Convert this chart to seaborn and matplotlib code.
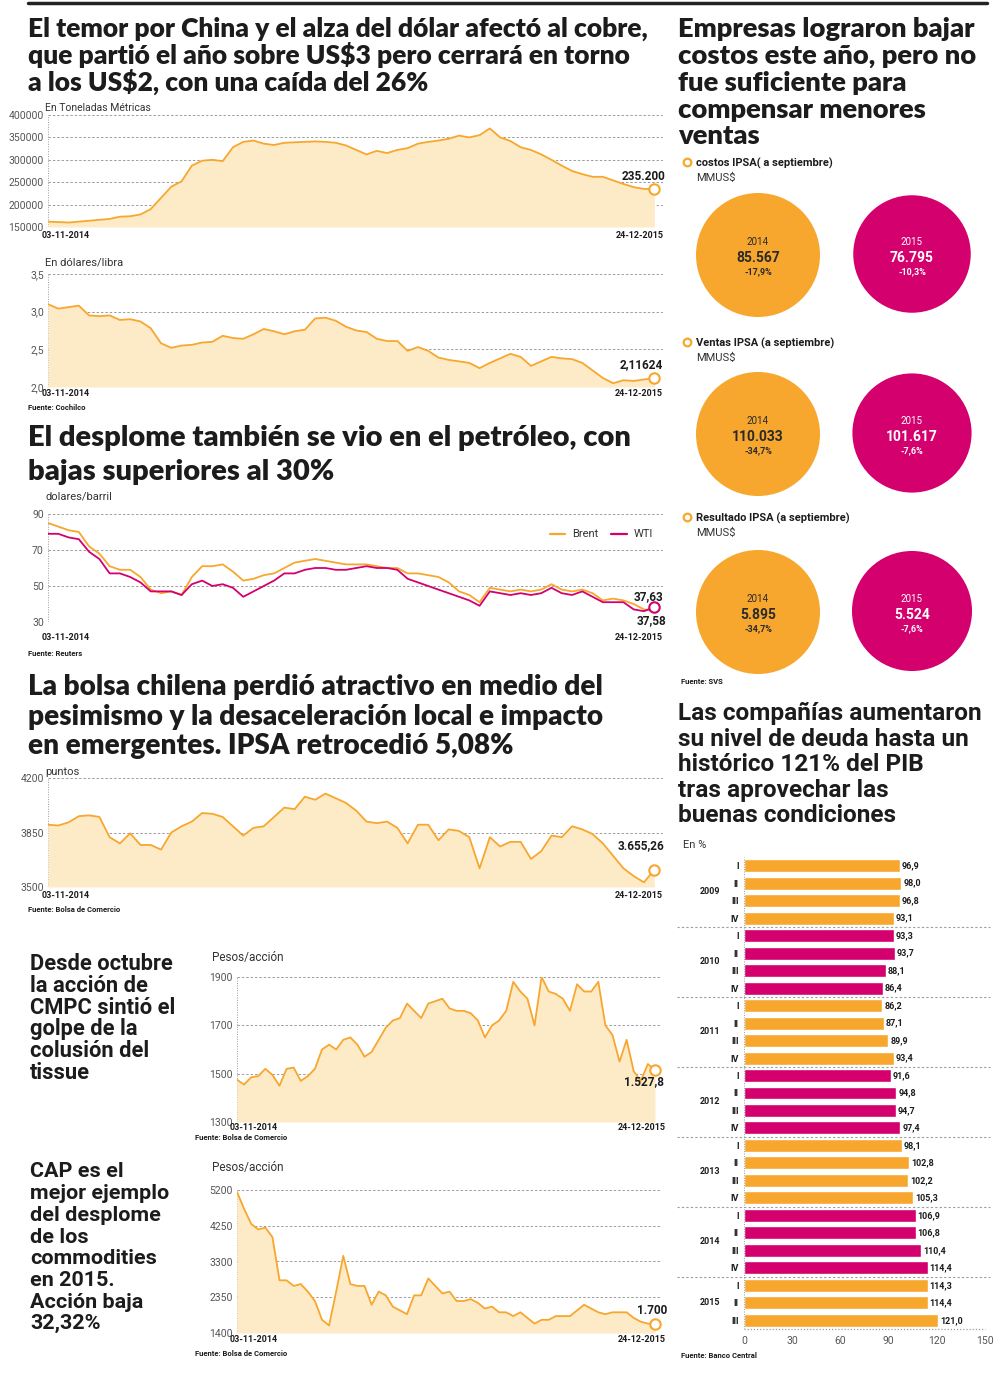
import numpy as np
import pandas as pd
import matplotlib
matplotlib.use('Agg')
import matplotlib.pyplot as plt
import seaborn as sns
from matplotlib.patches import Circle
from matplotlib.lines import Line2D
import matplotlib.transforms as mtrans

# ---------------- data ----------------
START, END = '2014-11-03', '2015-12-24'

copper_stock_k = [162, 161, 160, 162, 164, 166, 168, 173, 174, 178, 190, 215, 240, 252, 287, 298, 300, 297,
                  328, 340, 343, 336, 333, 338, 339, 340, 341, 340, 338, 332, 322, 312, 320, 315, 322, 326,
                  336, 340, 343, 347, 354, 350, 355, 370, 350, 342, 328, 322, 312, 300, 287, 275, 268, 262,
                  262, 254, 246, 239, 235, 235.2]
copper_price = [3.10, 3.04, 3.06, 3.08, 2.95, 2.94, 2.95, 2.89, 2.90, 2.87, 2.78, 2.58, 2.52, 2.55, 2.56,
                2.59, 2.60, 2.68, 2.65, 2.64, 2.70, 2.77, 2.74, 2.70, 2.74, 2.76, 2.91, 2.92, 2.88, 2.80,
                2.75, 2.73, 2.64, 2.61, 2.61, 2.48, 2.53, 2.48, 2.39, 2.36, 2.34, 2.32, 2.25, 2.32, 2.38,
                2.44, 2.40, 2.28, 2.34, 2.40, 2.38, 2.37, 2.32, 2.22, 2.12, 2.05, 2.09, 2.08, 2.10, 2.116]
brent = [85, 83, 81, 80, 72, 68, 61, 59, 59, 55, 48, 46, 47, 45, 55, 61, 61, 62, 58, 53, 54, 56, 57, 60,
         63, 64, 65, 64, 63, 62, 62, 62, 61, 60, 60, 57, 57, 56, 55, 52, 47, 45, 41, 49, 48, 47, 48, 47,
         48, 51, 48, 47, 48, 46, 42, 43, 42, 40, 37, 36]
wti = [79, 79, 77, 76, 69, 65, 57, 57, 55, 52, 47, 47, 47, 45, 51, 53, 50, 51, 49, 44, 47, 50, 53, 57,
       57, 59, 60, 60, 59, 59, 60, 61, 60, 60, 59, 54, 52, 50, 48, 46, 44, 42, 39, 47, 46, 45, 46, 45,
       46, 49, 46, 45, 47, 44, 41, 41, 41, 37, 36, 38.3]
ipsa = [3900, 3895, 3915, 3955, 3960, 3950, 3820, 3780, 3845, 3770, 3770, 3740, 3850, 3890, 3920, 3975,
        3970, 3950, 3890, 3830, 3880, 3890, 3950, 4010, 4000, 4080, 4060, 4100, 4070, 4040, 3990, 3920,
        3910, 3920, 3880, 3780, 3900, 3900, 3800, 3870, 3860, 3820, 3620, 3820, 3760, 3790, 3790, 3680,
        3730, 3830, 3820, 3890, 3870, 3840, 3780, 3700, 3620, 3570, 3530, 3610]
cmpc = [1475, 1455, 1485, 1490, 1520, 1495, 1450, 1520, 1525, 1470, 1490, 1520, 1600, 1620, 1600, 1640,
        1650, 1620, 1570, 1590, 1640, 1690, 1720, 1730, 1790, 1760, 1730, 1790, 1800, 1810, 1770, 1760,
        1760, 1750, 1720, 1650, 1700, 1720, 1760, 1880, 1840, 1810, 1700, 1900, 1840, 1830, 1810, 1760,
        1870, 1840, 1840, 1880, 1700, 1660, 1550, 1640, 1510, 1470, 1540, 1515]
cap = [5150, 4700, 4300, 4150, 4200, 3950, 2800, 2800, 2650, 2700, 2500, 2250, 1750, 1600, 2500, 3450,
       2700, 2650, 2650, 2150, 2500, 2400, 2100, 2000, 1900, 2400, 2400, 2850, 2650, 2450, 2500, 2250,
       2250, 2300, 2200, 2050, 2100, 1950, 1950, 1850, 1950, 1800, 1650, 1750, 1750, 1850, 1850, 1850,
       2000, 2150, 2050, 1950, 1900, 1950, 1950, 1950, 1800, 1700, 1650, 1640]

stock_ticks = [150000, 200000, 250000, 300000, 350000, 400000]
price_ticks = [2.0, 2.5, 3.0, 3.5]
oil_ticks = [30, 50, 70, 90]
ipsa_ticks = [3500, 3850, 4200]
cmpc_ticks = [1300, 1500, 1700, 1900]
cap_ticks = [1400, 2350, 3300, 4250, 5200]

debt_years = ['2009'] * 4 + ['2010'] * 4 + ['2011'] * 4 + ['2012'] * 4 + ['2013'] * 4 + ['2014'] * 4 + ['2015'] * 3
debt_quarters = ['I', 'II', 'III', 'IV'] * 6 + ['I', 'II', 'III']
debt_values = [96.9, 98.0, 96.8, 93.1, 93.3, 93.7, 88.1, 86.4, 86.2, 87.1, 89.9, 93.4, 91.6, 94.8, 94.7, 97.4,
               98.1, 102.8, 102.2, 105.3, 106.9, 106.8, 110.4, 114.4, 114.3, 114.4, 121.0]

circle_titles = ['costos IPSA( a septiembre)', 'Ventas IPSA (a septiembre)', 'Resultado IPSA (a septiembre)']
circle_v2014 = [85567, 110033, 5895]
circle_v2015 = [76795, 101617, 5524]
circle_p2014 = ['-17,9%', '-34,7%', '-34,7%']
circle_p2015 = ['-10,3%', '-7,6%', '-7,6%']

# ---------------- style ----------------
W, H = 1002, 1374
ORANGE = '#F7A72E'
PINK = '#D3006E'
FILL = '#FDEAC6'
GRID = '#9c9c9c'
INK = '#1c1c1c'
TICK = '#555555'

sns.set_theme(style='white')
plt.rcParams['font.family'] = ['Roboto', 'DejaVu Sans']
plt.rcParams['text.parse_math'] = False
TITLE_FAM = ['Lato', 'Roboto', 'DejaVu Sans']
WIDE_FAM = ['Roboto', 'DejaVu Sans']

fig = plt.figure(figsize=(W / 100, H / 100), dpi=100)
fig.patch.set_facecolor('white')
renderer = fig.canvas.get_renderer()


def ftext(x, y, s, **kw):
    return fig.text(x / W, 1 - y / H, s, **kw)


def pax(x0, y0, x1, y1):
    ax = fig.add_axes([x0 / W, 1 - y1 / H, (x1 - x0) / W, (y1 - y0) / H])
    ax.set_facecolor('none')
    return ax


def fit_block(lines, x, baselines, target_w, ref, family, color=INK, weight='bold'):
    t = fig.text(0, 0, lines[ref], fontsize=20, family=family, weight=weight)
    w = t.get_window_extent(renderer).width
    t.remove()
    size = 20 * target_w / w
    for s, y in zip(lines, baselines):
        ftext(x, y, s, fontsize=size, family=family, weight=weight, va='baseline', color=color)


def fmt_dec(v, nd):
    return f'{v:.{nd}f}'.replace('.', ',')


def style_axis(ax, ticks, labels, dates):
    ax.set_ylim(ticks[0], ticks[-1])
    ax.set_xlim(dates[0], dates[-1] + pd.Timedelta(days=6))
    ax.set_yticks(ticks)
    ax.set_yticklabels(labels)
    ax.set_xticks([])
    ax.set_xlabel('')
    ax.set_ylabel('')
    for s in ax.spines.values():
        s.set_visible(False)
    ax.tick_params(axis='y', length=0, pad=3, labelsize=7.5, labelcolor=TICK)


def line_chart(rect, values, ticks, labels, fill=True, color=ORANGE):
    ax = pax(*rect)
    dates = pd.date_range(START, END, periods=len(values))
    df = pd.DataFrame({'date': dates, 'v': values})
    lo = ticks[0]
    for t in ticks:
        ax.axhline(t, color=GRID, ls=(0, (2.5, 2)), lw=0.7, zorder=0)
    if fill:
        ax.fill_between(dates, lo, values, color=FILL, lw=0, zorder=1)
    sns.lineplot(data=df, x='date', y='v', ax=ax, color=color, linewidth=1.3, zorder=3)
    ax.plot([dates[-1]], [values[-1]], 'o', ms=7.5, mfc='white', mec=color, mew=1.5, zorder=4, clip_on=False)
    ax.axvline(dates[0], color=GRID, ls=(0, (1, 1.5)), lw=0.7, zorder=0)
    style_axis(ax, ticks, labels, dates)
    return ax


def date_labels(xl, xr, y):
    ftext(xl, y, '03-11-2014', fontsize=6.5, weight='bold', va='center', ha='left', color=INK)
    ftext(xr, y, '24-12-2015', fontsize=6.5, weight='bold', va='center', ha='right', color=INK)


def fuente(x, y, s):
    ftext(x, y, s, fontsize=5.5, weight='bold', va='center', color=INK)


# top rule
fig.add_artist(Line2D([28 / W, 987 / W], [1 - 3 / H, 1 - 3 / H], lw=2.5, color='#222222'))

# ---------------- titles ----------------
fit_block(['El temor por China y el alza del dólar afectó al cobre,',
           'que partió el año sobre US$3 pero cerrará en torno',
           'a los US$2, con una caída del 26%'], 28, [37, 64, 91], 620, 0, TITLE_FAM, weight='heavy')
fit_block(['Empresas lograron bajar', 'costos este año, pero no', 'fue suficiente para',
           'compensar menores', 'ventas'], 678, [37, 64, 91, 118, 144], 297, 0, TITLE_FAM, weight='heavy')
fit_block(['El desplome también se vio en el petróleo, con', 'bajas superiores al 30%'],
          28, [446, 480], 606, 0, TITLE_FAM, weight='heavy')
fit_block(['La bolsa chilena perdió atractivo en medio del',
           'pesimismo y la desaceleración local e impacto',
           'en emergentes. IPSA retrocedió 5,08%'], 28, [695, 725, 754], 574, 0, TITLE_FAM, weight='heavy')
fit_block(['Las compañías aumentaron', 'su nivel de deuda hasta un', 'histórico 121% del PIB',
           'tras aprovechar las', 'buenas condiciones'], 678, [720, 746, 771, 797, 822], 302, 0, WIDE_FAM)
fit_block(['Desde octubre', 'la acción de', 'CMPC sintió el', 'golpe de la', 'colusión del', 'tissue'],
          30, [970, 992, 1014, 1035, 1057, 1079], 142, 0, WIDE_FAM)
fit_block(['CAP es el', 'mejor ejemplo', 'del desplome', 'de los', 'commodities', 'en 2015.',
           'Acción baja', '32,32%'], 30, [1177, 1199, 1221, 1243, 1264, 1286, 1308, 1329], 138, 1, WIDE_FAM)

# ---------------- chart 1: copper stocks ----------------
line_chart((48, 115, 663, 227), [v * 1000 for v in copper_stock_k], stock_ticks,
           [str(t) for t in stock_ticks])
ftext(45, 108, 'En Toneladas Métricas', fontsize=7.5, va='center', color='#333333')
date_labels(42, 664, 236)
ftext(665, 177, f'{copper_stock_k[-1]:.3f}', fontsize=8.5, weight='bold', ha='right', va='center', color=INK)

# ---------------- chart 2: copper price ----------------
line_chart((48, 274, 663, 387), copper_price, price_ticks, [fmt_dec(t, 1) for t in price_ticks])
ftext(45, 262, 'En dólares/libra', fontsize=8, va='center', color='#333333')
date_labels(42, 663, 394)
fuente(28, 408, 'Fuente: Cochilco')
ftext(663, 365, '2,11624', fontsize=8.5, weight='bold', ha='right', va='center', color=INK)

# ---------------- chart 3: oil ----------------
ax3 = pax(48, 514, 663, 622)
dates = pd.date_range(START, END, periods=len(brent))
oil_df = pd.DataFrame({'date': list(dates) * 2, 'v': brent + wti,
                       'serie': ['Brent'] * len(brent) + ['WTI'] * len(wti)})
for t in oil_ticks:
    ax3.axhline(t, color=GRID, ls=(0, (2.5, 2)), lw=0.7, zorder=0)
ax3.axvline(dates[0], color=GRID, ls=(0, (1, 1.5)), lw=0.7, zorder=0)
sns.lineplot(data=oil_df, x='date', y='v', hue='serie', palette={'Brent': ORANGE, 'WTI': PINK},
             ax=ax3, linewidth=1.3, legend=False)
ax3.plot([dates[-1]], [wti[-1]], 'o', ms=7.5, mfc='white', mec=PINK, mew=1.5, zorder=4, clip_on=False)
style_axis(ax3, oil_ticks, [str(t) for t in oil_ticks], dates)
handles = [Line2D([], [], color=ORANGE, lw=1.6), Line2D([], [], color=PINK, lw=1.6)]
ax3.legend(handles, ['Brent', 'WTI'], loc='upper right', bbox_to_anchor=(1.0, 0.95), ncol=2, frameon=False,
           fontsize=8, handlelength=1.4, columnspacing=1.2, handletextpad=0.6, labelcolor='#333333')
ftext(45, 497, 'dolares/barril', fontsize=8, va='center', color='#333333')
date_labels(42, 663, 637)
fuente(28, 653, 'Fuente: Reuters')
ftext(663, 597, '37,63', fontsize=8.5, weight='bold', ha='right', va='center', color=INK)
ftext(666, 621, '37,58', fontsize=8.5, weight='bold', ha='right', va='center', color=INK)

# ---------------- chart 4: IPSA ----------------
line_chart((48, 778, 663, 887), ipsa, ipsa_ticks, [str(t) for t in ipsa_ticks])
ftext(45, 772, 'puntos', fontsize=8, va='center', color='#333333')
date_labels(42, 663, 895)
fuente(28, 910, 'Fuente: Bolsa de Comercio')
ftext(664, 846, '3.655,26', fontsize=8.5, weight='bold', ha='right', va='center', color=INK)

# ---------------- chart 5: CMPC ----------------
line_chart((237, 977, 661, 1122), cmpc, cmpc_ticks, [str(t) for t in cmpc_ticks])
ftext(212, 958, 'Pesos/acción', fontsize=8.5, va='center', color='#333333')
date_labels(230, 666, 1127)
fuente(195, 1138, 'Fuente: Bolsa de Comercio')
ftext(664, 1082, '1.527,8', fontsize=8.5, weight='bold', ha='right', va='center', color=INK)

# ---------------- chart 6: CAP ----------------
line_chart((237, 1190, 661, 1333), cap, cap_ticks, [str(t) for t in cap_ticks])
ftext(212, 1168, 'Pesos/acción', fontsize=8.5, va='center', color='#333333')
date_labels(230, 666, 1340)
fuente(195, 1353, 'Fuente: Bolsa de Comercio')
ftext(667, 1311, '1.700', fontsize=8.5, weight='bold', ha='right', va='center', color=INK)

# ---------------- circles ----------------
axc = pax(670, 150, 1002, 700)
axc.set_xlim(670, 1002)
axc.set_ylim(700, 150)
axc.axis('off')
row_cy = [255, 434, 612]
row_head = [163, 343, 518]
R0 = 62
for i in range(3):
    cy = row_cy[i]
    r15 = R0 * np.sqrt(circle_v2015[i] / circle_v2014[i])
    axc.add_patch(Circle((758, cy), R0, color=ORANGE, lw=0))
    axc.add_patch(Circle((912, cy - 1), r15, color=PINK, lw=0))
    for cx, yr, v, p, col in [(758, '2014', circle_v2014[i], circle_p2014[i], '#2a2a2a'),
                              (912, '2015', circle_v2015[i], circle_p2015[i], 'white')]:
        axc.text(cx, cy - 13, yr, ha='center', va='center', fontsize=7, color=col)
        axc.text(cx, cy + 3, f'{v:,}'.replace(',', '.'), ha='center', va='center', fontsize=10,
                 weight='bold', color=col)
        axc.text(cx, cy + 17, p, ha='center', va='center', fontsize=6.5, weight='bold', color=col)
    hy = row_head[i]
    axc.plot([687], [hy - 1], 'o', ms=5.5, mfc='white', mec=ORANGE, mew=1.6)
    axc.text(696, hy, circle_titles[i], ha='left', va='center', fontsize=8, weight='bold', color=INK)
    axc.text(696, hy + 15, 'MMUS$', ha='left', va='center', fontsize=8, color='#333333')
fuente(681, 682, 'Fuente: SVS')

# ---------------- debt bars ----------------
axb = pax(744, 857, 985, 1329)
debt_df = pd.DataFrame({'key': [f'{y}-{q}' for y, q in zip(debt_years, debt_quarters)],
                        'value': debt_values, 'year': debt_years})
year_list = list(dict.fromkeys(debt_years))
palette = {y: (ORANGE if k % 2 == 0 else PINK) for k, y in enumerate(year_list)}
sns.barplot(data=debt_df, x='value', y='key', hue='year', palette=palette, dodge=False, width=0.74,
            saturation=1, ax=axb, legend=False, orient='h')
n = len(debt_values)
axb.set_ylim(n - 0.5, -0.5)
axb.set_xlim(0, 150)
axb.set_xticks([0, 30, 60, 90, 120, 150])
axb.set_yticks(range(n))
axb.set_yticklabels(debt_quarters)
axb.set_xlabel('')
axb.set_ylabel('')
for s in axb.spines.values():
    s.set_visible(False)
axb.tick_params(axis='y', length=0, pad=4, labelsize=6.5, labelcolor=INK)
for lab in axb.get_yticklabels():
    lab.set_fontweight('bold')
axb.tick_params(axis='x', length=0, pad=5, labelsize=7.5, labelcolor=TICK)
axb.axvline(0, color=GRID, ls=(0, (1, 1.5)), lw=0.7)
axb.axhline(n - 0.5, color=GRID, ls=(0, (1, 1.5)), lw=0.9, clip_on=False)
blend = mtrans.blended_transform_factory(axb.transAxes, axb.transData)
for i, v in enumerate(debt_values):
    axb.text(v + 1.2, i, fmt_dec(v, 1), ha='left', va='center', fontsize=6.5, weight='bold', color=INK)
idx = np.arange(n)
for y in year_list:
    pos = idx[np.array(debt_years) == y]
    axb.text(-0.141, pos.mean(), y, transform=blend, ha='center', va='center', fontsize=6.5,
             weight='bold', color=INK)
    if pos[-1] < n - 1:
        axb.plot([-0.278, 1.02], [pos[-1] + 0.5] * 2, transform=blend, color=GRID, ls=(0, (2, 2)),
                 lw=0.8, clip_on=False)
ftext(683, 845, 'En %', fontsize=8, va='center', color='#333333')
fuente(681, 1355, 'Fuente: Banco Central')

fig.savefig('out.png', dpi=100, facecolor='white')
